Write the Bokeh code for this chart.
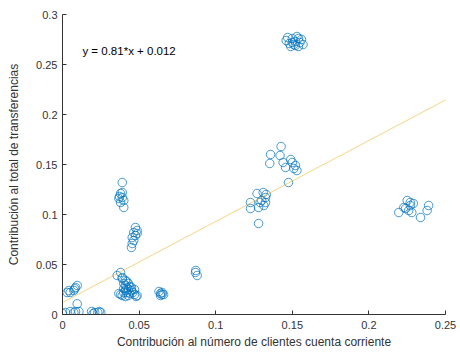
from bokeh.plotting import figure
from bokeh.models import FixedTicker, ColumnDataSource, Label
from bokeh.embed import file_html
from bokeh.resources import INLINE

# --- data ---
x_values = [
    # top cluster
    0.146, 0.148, 0.150, 0.151, 0.152, 0.153, 0.154, 0.155, 0.156, 0.157, 0.149, 0.152, 0.154, 0.150, 0.147,
    # cluster ~0.15
    0.1427, 0.1358, 0.1353, 0.142, 0.144, 0.150, 0.151, 0.153, 0.1475, 0.1456, 0.152, 0.149,
    # cluster ~0.11
    0.127, 0.131, 0.1325, 0.129, 0.1314, 0.1227, 0.1227, 0.128, 0.130, 0.1325, 0.128, 0.133,
    # right cluster
    0.2195, 0.225, 0.227, 0.226, 0.229, 0.228, 0.2337, 0.239, 0.238, 0.224, 0.2228, 0.227,
    # cluster x~0.038 high
    0.039, 0.0379, 0.039, 0.0368, 0.040, 0.0379, 0.040, 0.039, 0.0372,
    # cluster x~0.046
    0.0476, 0.0487, 0.0465, 0.0476, 0.0455, 0.0465, 0.0455, 0.045, 0.0487,
    # dense low cluster
    0.0379, 0.0357, 0.039, 0.040, 0.041, 0.042, 0.043, 0.041, 0.040, 0.042, 0.044, 0.039, 0.041,
    0.043, 0.045, 0.046, 0.047, 0.048, 0.040, 0.044, 0.038, 0.042, 0.039, 0.043, 0.045, 0.047,
    0.0368, 0.041, 0.0487,
    # cluster x~0.064
    0.063, 0.064, 0.065, 0.066, 0.064, 0.065,
    # cluster x~0.087
    0.0868, 0.0879, 0.087,
    # small cluster near origin
    0.0041, 0.005, 0.0085, 0.0096, 0.008, 0.003, 0.0074, 0.0096,
    0.002, 0.005, 0.0085, 0.0107, 0.0, 0.0074,
    0.019, 0.021, 0.023, 0.025, 0.024, 0.020,
]
y_values = [
    0.274, 0.271, 0.276, 0.270, 0.273, 0.278, 0.268, 0.272, 0.275, 0.270, 0.268, 0.269, 0.276, 0.272, 0.277,
    0.168, 0.160, 0.151, 0.159, 0.152, 0.152, 0.146, 0.144, 0.132, 0.147, 0.149, 0.155,
    0.121, 0.122, 0.117, 0.112, 0.109, 0.112, 0.106, 0.091, 0.114, 0.112, 0.107, 0.120,
    0.102, 0.114, 0.109, 0.104, 0.111, 0.102, 0.097, 0.109, 0.104, 0.106, 0.107, 0.112,
    0.132, 0.121, 0.117, 0.116, 0.114, 0.112, 0.107, 0.122, 0.118,
    0.087, 0.084, 0.082, 0.079, 0.077, 0.074, 0.071, 0.067, 0.081,
    0.042, 0.039, 0.037, 0.031, 0.029, 0.027, 0.025, 0.024, 0.022, 0.022, 0.021, 0.019, 0.018,
    0.019, 0.024, 0.022, 0.020, 0.018, 0.026, 0.028, 0.020, 0.033, 0.036, 0.031, 0.027, 0.025,
    0.021, 0.034, 0.019,
    0.023, 0.021, 0.022, 0.020, 0.019, 0.020,
    0.042, 0.039, 0.044,
    0.024, 0.022, 0.027, 0.029, 0.0257, 0.022, 0.024, 0.0107,
    0.002, 0.003, 0.003, 0.003, 0.001, 0.002,
    0.003, 0.002, 0.002, 0.002, 0.003, 0.001,
]

slope = 0.81
intercept = 0.012
fit_x = [0.0, 0.25]
fit_y = [slope * v + intercept for v in fit_x]

x_ticks = [0, 0.05, 0.1, 0.15, 0.2, 0.25]
x_tick_labels = ["0", "0.05", "0.1", "0.15", "0.2", "0.25"]
y_ticks = [0, 0.05, 0.1, 0.15, 0.2, 0.25, 0.3]
y_tick_labels = ["0", "0.05", "0.1", "0.15", "0.2", "0.25", "0.3"]

equation = "y = 0.81*x + 0.012"
x_label = "Contribución al número de clientes cuenta corriente"
y_label = "Contribución al total de transferencias"

FONT = "Liberation Sans"
AX = "#333333"

p = figure(width=460, height=352, output_backend="svg", toolbar_location=None,
           x_range=(0, 0.25), y_range=(0, 0.3),
           min_border_left=62, min_border_right=15, min_border_top=14, min_border_bottom=38)
p.background_fill_color = "white"
p.border_fill_color = "white"
p.outline_line_color = None
p.xgrid.visible = False
p.ygrid.visible = False

src = ColumnDataSource(dict(x=x_values, y=y_values))
p.scatter("x", "y", source=src, marker="circle", size=8.5, fill_color=None,
          line_color="#0072BD", line_width=0.9, line_alpha=0.8)

p.line(fit_x, fit_y, line_color="#EDB120", line_width=1, line_alpha=0.55)

p.add_layout(Label(x=0.013, y=0.264, text=equation, text_font=FONT, text_font_size="11.5px",
                   text_color="#000000", text_baseline="middle"))

for ax, ticks, labels in ((p.xaxis[0], x_ticks, x_tick_labels), (p.yaxis[0], y_ticks, y_tick_labels)):
    ax.ticker = FixedTicker(ticks=ticks)
    ax.major_label_overrides = {t: l for t, l in zip(ticks, labels)}
    ax.major_tick_in = 4
    ax.major_tick_out = 0
    ax.minor_tick_in = 0
    ax.minor_tick_out = 0
    ax.axis_line_color = AX
    ax.major_tick_line_color = AX
    ax.major_label_text_color = AX
    ax.major_label_text_font = FONT
    ax.major_label_text_font_size = "11px"
    ax.axis_label_text_font = FONT
    ax.axis_label_text_font_size = "12px"
    ax.axis_label_text_font_style = "normal"
    ax.axis_label_text_color = AX

p.xaxis.axis_label = x_label
p.yaxis.axis_label = y_label
p.xaxis.major_label_standoff = 6
p.xaxis.axis_label_standoff = 3
p.yaxis.major_label_standoff = 5
p.yaxis.axis_label_standoff = 12

open("out.html", "w").write(file_html(p, INLINE))
